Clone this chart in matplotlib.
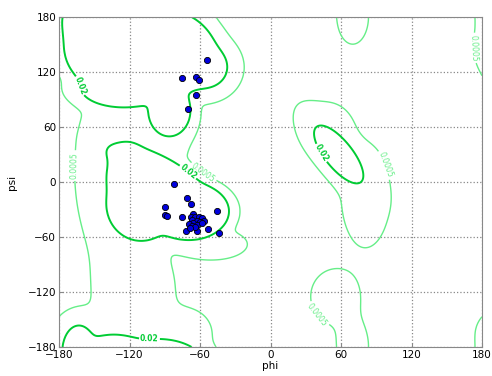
import numpy as np
import matplotlib
matplotlib.use("Agg")
import matplotlib.pyplot as plt

# ---- observed residues (phi, psi) ----
phi_pts = [-54, -75.6, -63.7, -61.1, -63.2, -70, -82.1, -71, -67.7, -89.8, -89.8,
           -87.8, -75.6, -45.3, -71.9, -53.5, -43.6, -62.3,
           -65.7, -67.9, -64.3, -60.6, -58.6, -56.3, -67, -62.8, -60, -65.7, -69,
           -62.3, -67, -64.3, -68.5, -58.3]
psi_pts = [133, 113.8, 114, 111, 94.6, 79.3, -2.5, -17, -24.3, -27, -35.7,
           -36.7, -37.8, -32, -53.8, -51, -56, -53,
           -35.2, -38.5, -37.8, -37.8, -39.6, -42.2, -41.5, -42.5, -44, -45, -45.8,
           -46.9, -48, -48.8, -50.5, -45]

# ---- reference density model: periodic gaussian components ----
comp_phi   = [-132, -95, -55, -86, -125, -163,   -70, -110, -97.7, -121,   -116, -143, -50, -70, -165, -105,   58, 81, 48,   70, 55]
comp_psi   = [145, 140, 125, 78, 102, 175,       -32, -25, 10.4, 5,        -120, 10, -68, -165, -165, 55,     30, -15, 60,  180, -125]
comp_sphi  = [12.5, 14, 10, 7, 14, 6,            10, 9, 17, 6.5,           21, 14, 16, 12, 12, 22,           19.5, 14, 14, 9, 14]
comp_spsi  = [14, 14, 12, 11, 8, 12,             9, 12, 6.5, 13,           40, 50, 9, 15, 15, 40,            7, 38, 18,    20, 20]
comp_angle = [10, 0, 0, 0, 0, 0,                 0, 0, -34, 0,             0, 0, 0, 0, 0, 0,                 -60, 0, 0,    0, 0]
comp_amp   = [8, 8, 0.1, 0.5, 0.5, 0.3,          8, 4, 1, 1,               0.002, 0.002, 0.003, 0.002, 0.002, 0.002,
              0.1, 0.0015, 0.0015,   0.0015, 0.0015]

levels = [0.0005, 0.02]
level_colors = ["#66ee88", "#00cc33"]
level_widths = [1.0, 1.4]

grid = np.linspace(-180, 180, 361)
P, S = np.meshgrid(grid, grid)
D = np.zeros_like(P)
for p0, s0, sp, ss, ang, amp in zip(comp_phi, comp_psi, comp_sphi, comp_spsi, comp_angle, comp_amp):
    c, s = np.cos(np.radians(ang)), np.sin(np.radians(ang))
    for dx in (-360, 0, 360):
        for dy in (-360, 0, 360):
            u = P - p0 - dx
            v = S - s0 - dy
            a = c * u + s * v
            b = -s * u + c * v
            D += amp * np.exp(-0.5 * ((a / sp) ** 2 + (b / ss) ** 2))

fig = plt.figure(figsize=(4.92, 3.76), dpi=100)
ax = fig.add_axes([59 / 492, 29 / 376, 423 / 492, 330 / 376])

cs = ax.contour(P, S, D, levels=levels, colors=level_colors, linewidths=level_widths)
label_pos = [(-169, 18), (-58, 9), (168, 146), (92, 16), (38, -147),
             (-158, 106), (-72, 8), (-103, -171), (45, 33)]
lbls = ax.clabel(cs, fmt={0.0005: "0.0005", 0.02: "0.02"}, fontsize=5.5,
                 inline=True, inline_spacing=2, manual=label_pos)
for t in lbls:
    if t.get_text() == "0.02":
        t.set_fontweight("bold")

ax.scatter(phi_pts, psi_pts, s=20, c="#0000dd", edgecolors="black", linewidths=0.6, zorder=5)

ax.set_xlim(-180, 180)
ax.set_ylim(-180, 180)
ticks = [-180, -120, -60, 0, 60, 120, 180]
ax.set_xticks(ticks)
ax.set_yticks(ticks)
ax.tick_params(labelsize=7.5, direction="in", length=3, color="#888888", pad=2)
ax.grid(True, linestyle=":", color="#888888", linewidth=0.9)
ax.set_axisbelow(True)
for sp in ax.spines.values():
    sp.set_color("#888888")
ax.set_xlabel("phi", fontsize=7.5, labelpad=1)
ax.set_ylabel("psi", fontsize=7.5, labelpad=8)

fig.savefig("out.png", dpi=100)
